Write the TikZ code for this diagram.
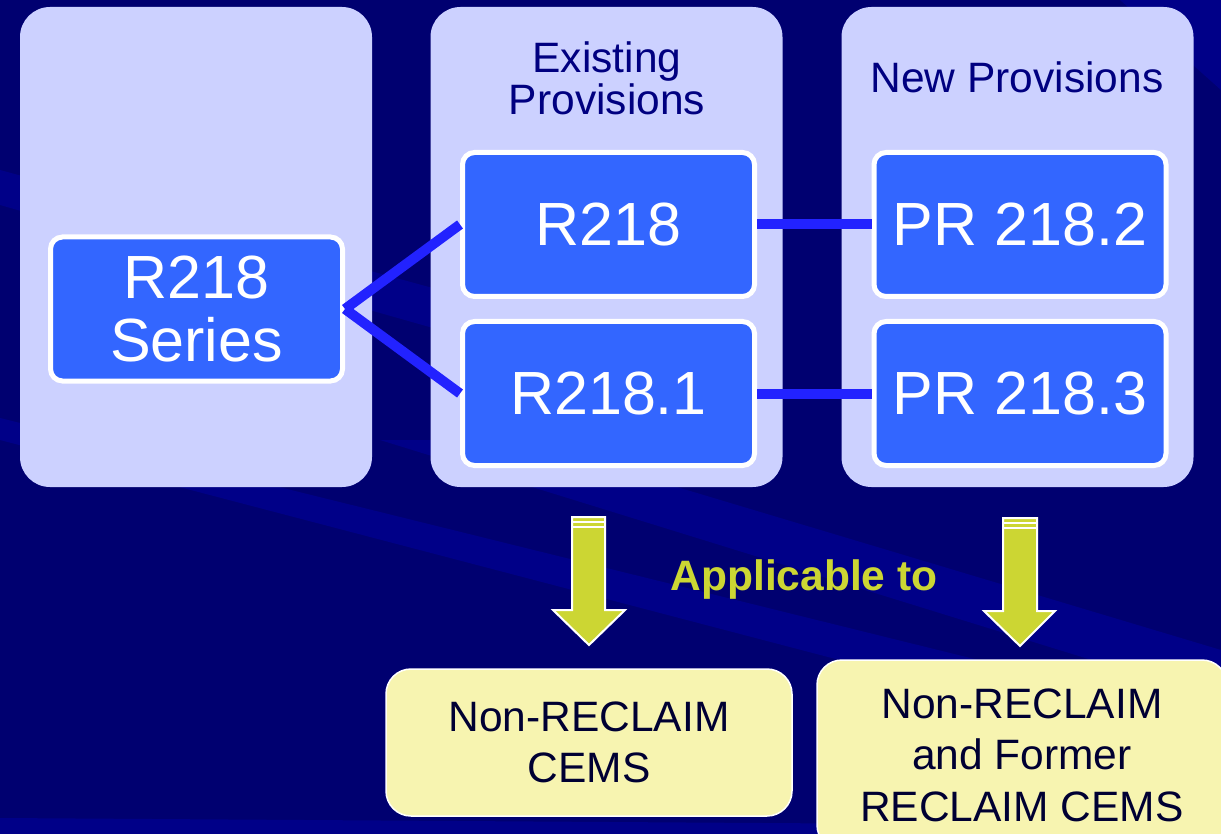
\documentclass[tikz,border=0pt]{standalone}
\usepackage{fontspec}
\setmainfont{Liberation Sans}
\definecolor{bgnavy}{HTML}{000070}
\definecolor{bgstripe}{HTML}{000088}
\definecolor{panelcol}{HTML}{CCD1FF}
\definecolor{boxblue}{HTML}{3366FF}
\definecolor{linkblue}{HTML}{2222FF}
\definecolor{arrowcol}{HTML}{CCD633}
\definecolor{noteyellow}{HTML}{F7F4B0}
\definecolor{headtext}{HTML}{000080}
\definecolor{darktext}{HTML}{000033}
\tikzset{
  panel/.style={fill=panelcol, rounded corners=30pt, inner sep=0pt, minimum width=352pt, minimum height=480pt},
  bluebox/.style={fill=boxblue, draw=white, line width=5pt, rounded corners=12pt, inner sep=0pt,
    minimum width=292pt, minimum height=144pt, text=white, align=center,
    font=\fontsize{61}{63}\selectfont},
  heading/.style={text=headtext, align=center, font=\fontsize{42.5}{42}\selectfont, inner sep=0pt},
  link/.style={linkblue, line width=10pt},
  notebox/.style={fill=noteyellow, draw=white, line width=1.5pt, rounded corners=25pt, inner sep=0pt,
    text=darktext, align=center, font=\fontsize{42.5}{51.5}\selectfont},
  bigarrow/.style={fill=arrowcol, draw=white, line width=2pt, line join=miter},
}
\begin{document}
\begin{tikzpicture}[x=1pt,y=-1pt]
\useasboundingbox (0,0) rectangle (1221,834);
% background
\fill[bgnavy] (0,0) rectangle (1221,834);
\fill[bgstripe] (0,170) -- (0,205) -- (440,330) -- (440,290) -- cycle;
\fill[bgstripe] (0,418) -- (0,440) -- (1221,760) -- (1221,720) -- cycle;
\fill[bgstripe] (380,440) -- (1221,700) -- (1221,650) -- (520,440) -- cycle;
\fill[bgstripe] (0,818) -- (1221,826) -- (1221,834) -- (0,834) -- cycle;
\fill[bgstripe] (1120,0) -- (1221,0) -- (1221,90) -- cycle;
% panels
\node[panel] (p1) at (196,247) {};
\node[panel] (p2) at (606.5,247) {};
\node[panel] (p3) at (1017.5,247) {};
\node[heading] (h2) at (607,78) {Existing\\Provisions};
\node[heading] (h3) at (1017,77) {New Provisions};
% blue boxes
\node[bluebox] (series) at (196.5,309) {R218\\Series};
\node[bluebox] (r218) at (608.5,224.5) {R218};
\node[bluebox] (r2181) at (608.5,393.5) {R218.1};
\node[bluebox] (pr2182) at (1020,224.5) {PR 218.2};
\node[bluebox] (pr2183) at (1020,393.5) {PR 218.3};
% connectors
\draw[link] (series.east) -- (r218.west);
\draw[link] (series.east) -- (r2181.west);
\draw[link] (r218.east) -- (pr2182.west);
\draw[link] (r2181.east) -- (pr2183.west);
% arrows
\draw[bigarrow] (572,517) -- (605,517) -- (605,610) -- (625,610) -- (589,645) -- (553,610) -- (572,610) -- cycle;
\fill[white] (572,521) rectangle (605,523);
\fill[white] (572,525.5) rectangle (605,527.5);
\draw[bigarrow] (1003,518) -- (1037,518) -- (1037,611) -- (1055,611) -- (1020,646) -- (984,611) -- (1003,611) -- cycle;
\fill[white] (1003,522) rectangle (1037,524);
\fill[white] (1003,526.5) rectangle (1037,528.5);
\node[text=arrowcol, font=\fontsize{42.5}{40}\selectfont\bfseries, inner sep=0pt] (app) at (804,580) {Applicable to};
% yellow boxes
\node[notebox, minimum width=406pt, minimum height=147pt] (n1) at (589,742.5) {Non-RECLAIM\\CEMS};
\node[notebox, minimum width=410pt, minimum height=190pt] (n2) at (1022,755) {Non-RECLAIM\\and Former\\RECLAIM CEMS};
\end{tikzpicture}
\end{document}
